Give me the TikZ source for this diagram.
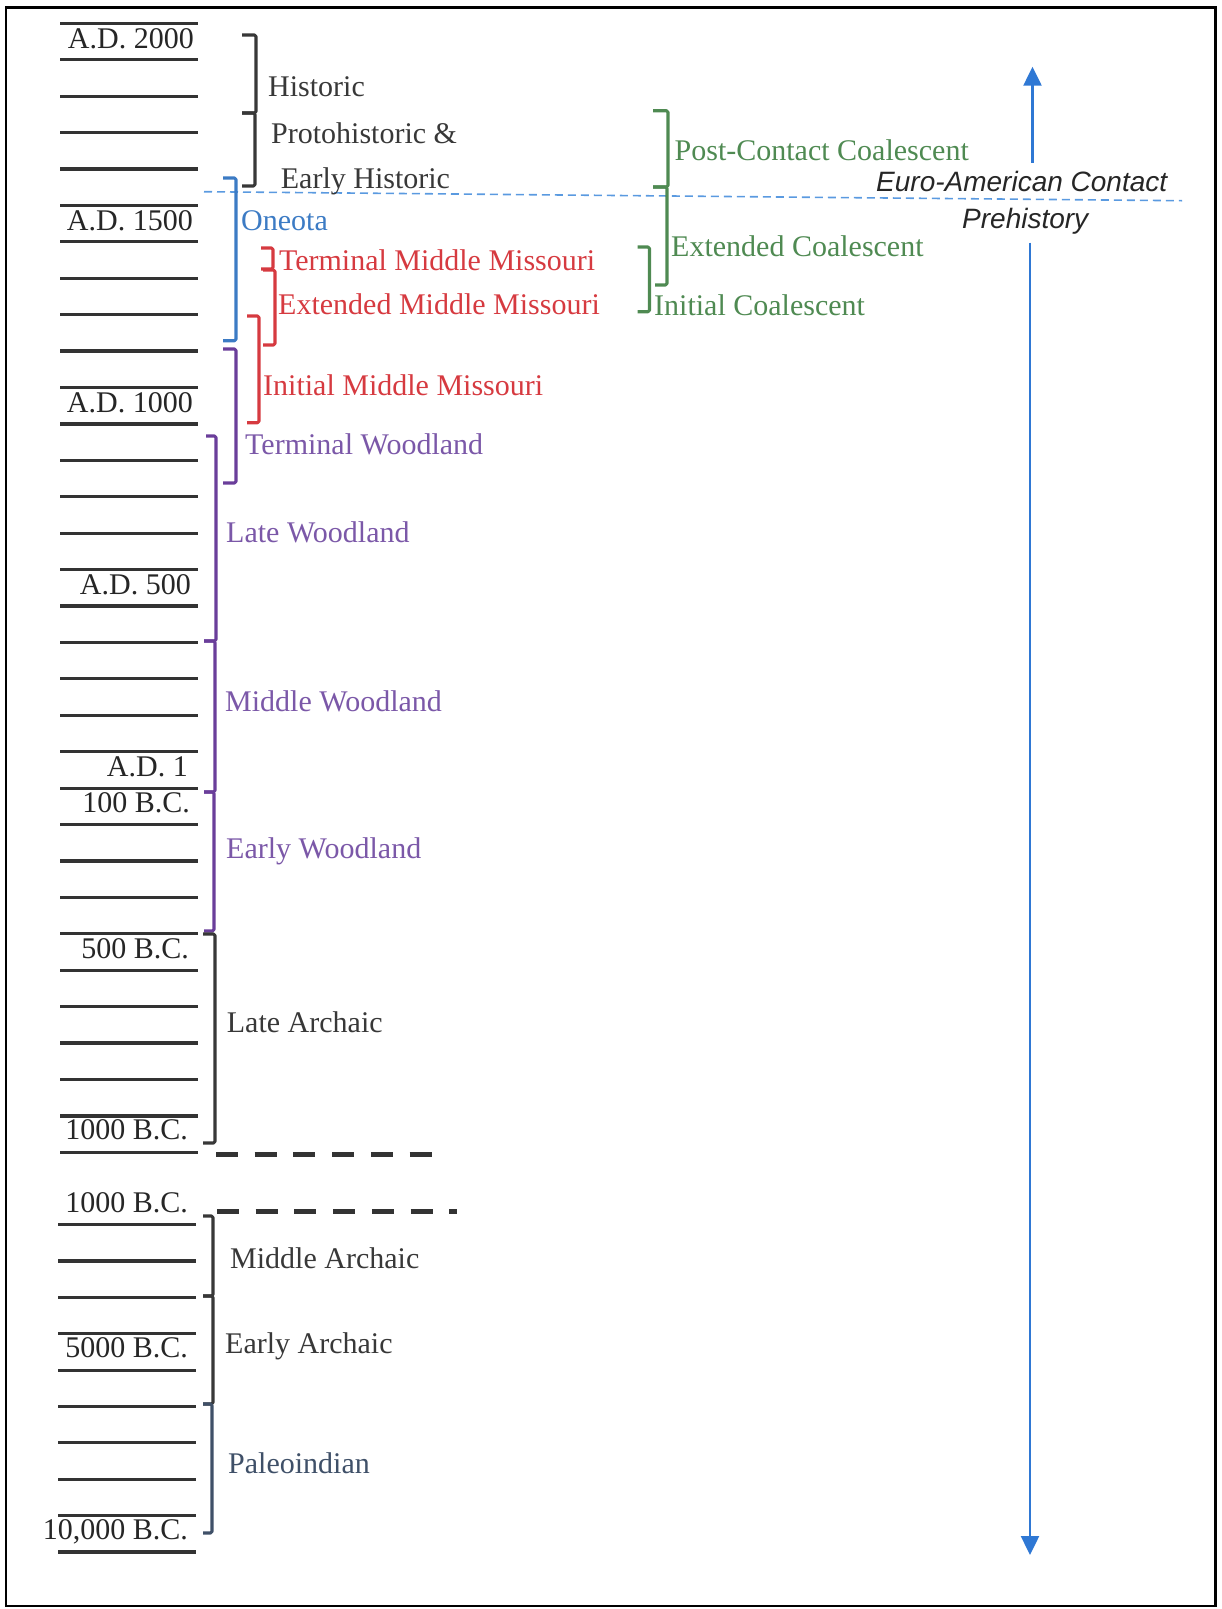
\documentclass[tikz,border=0pt]{standalone}
\usepackage{fontspec}
\setmainfont{Liberation Serif}
\newfontfamily\itsans{Liberation Sans}
\usetikzlibrary{arrows.meta}
\definecolor{tickc}{HTML}{333333}
\definecolor{dgray}{HTML}{383838}
\definecolor{oblue}{HTML}{3C7BC4}
\definecolor{mred}{HTML}{D63A40}
\definecolor{wpurp}{HTML}{7B58A8}
\definecolor{wpurpln}{HTML}{6A3E9A}
\definecolor{cgreen}{HTML}{4F8A52}
\definecolor{paleo}{HTML}{3F5068}
\definecolor{arrblue}{HTML}{2F78D4}
\definecolor{contact}{HTML}{5A9AE0}
\begin{document}
\begin{tikzpicture}[x=1pt,y=-1pt,
  every node/.style={inner sep=0pt, font=\fontsize{30}{32}\selectfont},
  datelbl/.style={anchor=base east, text=black!85},
  per/.style={anchor=base west},
  brk/.style={line width=3.1pt, line join=round, rounded corners=1.5pt},
  tickln/.style={line width=3.2pt, draw=tickc},
  bigdash/.style={line width=5pt, draw=tickc, dash pattern=on 22pt off 16.7pt},
  arr/.style={draw=arrblue, line width=2.4pt, -{Triangle[width=18pt,length=19pt]}},
  contactln/.style={draw=contact, line width=1.6pt, dash pattern=on 8pt off 5pt},
  ital/.style={font=\itsans\itshape\fontsize{28}{30}\selectfont, text=black!85, inner ysep=8.5pt, inner xsep=0pt},
]
\useasboundingbox (0,0) rectangle (1221,1609);
\draw[line width=2.5pt] (6,7.5) rectangle (1215.5,1606);

% tick marks, upper scale
\foreach \k in {0,...,31}
  \draw[tickln] (60,{23.3+36.42*\k}) -- (198,{23.3+36.42*\k});
% tick marks, lower scale
\foreach \j in {0,...,9}
  \draw[tickln] (58,{1224.6+36.38*\j}) -- (196,{1224.6+36.38*\j});

% date labels
\node[datelbl] (d2000) at (194,48) {A.D. 2000};
\node[datelbl] (d1500) at (193,230) {A.D. 1500};
\node[datelbl] (d1000) at (193,412) {A.D. 1000};
\node[datelbl] (d500) at (191,594) {A.D. 500};
\node[datelbl] (d1) at (188,776) {A.D. 1};
\node[datelbl] (d100bc) at (190,812.5) {100 B.C.};
\node[datelbl] (d500bc) at (189,958.8) {500 B.C.};
\node[datelbl] (d1000bca) at (188,1139.6) {1000 B.C.};
\node[datelbl] (d1000bcb) at (188,1212) {1000 B.C.};
\node[datelbl] (d5000bc) at (188,1357.6) {5000 B.C.};
\node[datelbl] (d10000bc) at (188,1539.8) {10,000 B.C.};

% thick dashed breaks
\draw[bigdash] (216,1154) -- (432,1154);
\draw[bigdash] (217,1211) -- (457,1211);

% Euro-American contact line
\coordinate (cl) at (204,191.7);
\coordinate (cr) at (1182,200.7);
\draw[contactln] (cl) -- (cr);

% black/gray brackets
\draw[brk, draw=dgray] (242,35) -- (256,35) -- (256,113) -- (242,113);
\draw[brk, draw=dgray] (242,113) -- (255,113) -- (255,186) -- (242,186);
% Oneota
\draw[brk, draw=oblue] (223,178) -- (236,178) -- (236,340.7) -- (223,340.7);
% Middle Missouri
\draw[brk, draw=mred] (261,248) -- (273,248) -- (273,269) -- (261,269);
\draw[brk, draw=mred] (263,270) -- (275,270) -- (275,345) -- (263,345);
\draw[brk, draw=mred] (247,316) -- (259,316) -- (259,422.7) -- (247,422.7);
% Woodland
\draw[brk, draw=wpurpln] (223,349) -- (236,349) -- (236,483) -- (223,483);
\draw[brk, draw=wpurpln] (206,436) -- (216,436) -- (216,641) -- (204,641);
\draw[brk, draw=wpurpln] (204,641) -- (215,641) -- (215,792) -- (204,792);
\draw[brk, draw=wpurpln] (204,792) -- (214,792) -- (214,931) -- (204,931);
% Archaic
\draw[brk, draw=dgray] (203,934) -- (215,934) -- (215,1143) -- (203,1143);
\draw[brk, draw=dgray] (203,1216) -- (213,1216) -- (213,1296) -- (203,1296);
\draw[brk, draw=dgray] (203,1296) -- (213,1296) -- (213,1404) -- (203,1404);
\draw[brk, draw=paleo] (203,1404) -- (212,1404) -- (212,1533) -- (203,1533);
% Coalescent
\draw[brk, draw=cgreen] (653,110.7) -- (668,110.7) -- (668,187) -- (653,187);
\draw[brk, draw=cgreen] (653,187) -- (667,187) -- (667,285) -- (655,285);
\draw[brk, draw=cgreen] (637.5,247) -- (649.5,247) -- (649.5,311.7) -- (637.5,311.7);

% period labels
\node[per, text=dgray] (hist) at (268,96.7) {Historic};
\node[per, text=dgray] (proto) at (271,143.3) {Protohistoric \&};
\node[per, text=dgray] (early) at (280.7,188.3) {Early Historic};
\node[per, text=oblue] (oneota) at (241,230.7) {Oneota};
\node[per, text=mred] (tmm) at (278.8,270.7) {Terminal Middle Missouri};
\node[per, text=mred] (emm) at (278,314) {Extended Middle Missouri};
\node[per, text=mred] (imm) at (263,395) {Initial Middle Missouri};
\node[per, text=wpurp] (tw) at (245,454) {Terminal Woodland};
\node[per, text=wpurp] (lw) at (226,542.2) {Late Woodland};
\node[per, text=wpurp] (mw) at (225,711) {Middle Woodland};
\node[per, text=wpurp] (ew) at (226,858) {Early Woodland};
\node[per, text=dgray] (la) at (226.7,1032.5) {Late Archaic};
\node[per, text=dgray] (ma) at (230,1268.5) {Middle Archaic};
\node[per, text=dgray] (ea) at (225,1353.5) {Early Archaic};
\node[per, text=paleo] (pi) at (228,1473.3) {Paleoindian};
\node[per, text=cgreen] (pcc) at (674.5,160) {Post-Contact Coalescent};
\node[per, text=cgreen] (ec) at (671,256.7) {Extended Coalescent};
\node[per, text=cgreen] (ic) at (654,315) {Initial Coalescent};

% contact / prehistory with arrow
\node[ital, anchor=base west] (euro) at (876,191.7) {Euro-American Contact};
\node[ital, anchor=base west] (pre) at (962,228) {Prehistory};
\coordinate (atop) at (1032.5,66.7);
\coordinate (abot) at (1030,1555);
\draw[arr] (euro.north -| atop) -- (atop);
\draw[arr] (pre.south -| abot) -- (abot);
\end{tikzpicture}
\end{document}
